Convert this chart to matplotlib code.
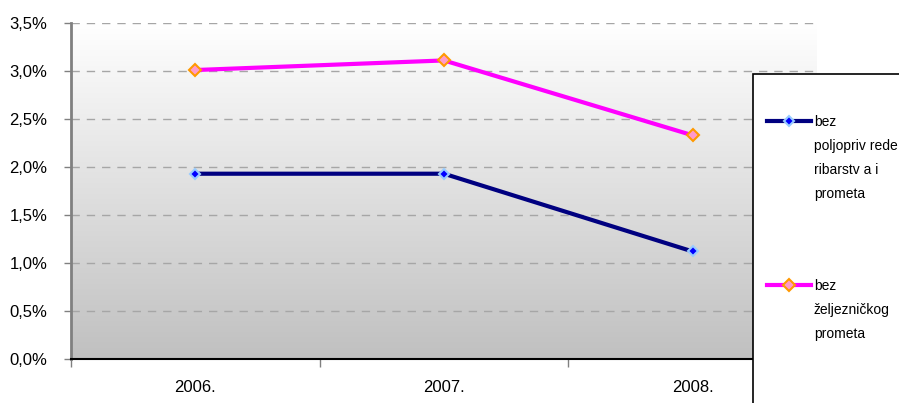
import matplotlib
matplotlib.use("Agg")
import matplotlib.pyplot as plt
import numpy as np
from matplotlib.patches import Rectangle
from matplotlib.lines import Line2D
from matplotlib.ticker import FuncFormatter, FixedLocator

categories = ["2006.", "2007.", "2008."]
series_a_name = "bez\npoljopriv rede\nribarstv a i\nprometa"
series_a = [1.93, 1.93, 1.12]
series_b_name = "bez\nželjezničkog\nprometa"
series_b = [3.01, 3.11, 2.33]
y_ticks = [0.0, 0.5, 1.0, 1.5, 2.0, 2.5, 3.0, 3.5]

W, H = 899, 403
fig = plt.figure(figsize=(W / 100, H / 100), dpi=100)
fig.patch.set_facecolor("white")
ax = fig.add_axes([71 / W, 1 - 359 / H, (817 - 71) / W, (359 - 23) / H])
ax.set_facecolor("none")

# gradient background
grad = np.linspace(0, 1, 256).reshape(-1, 1)
top = np.array([1.0, 1.0, 1.0])
bot = np.array([192, 192, 192]) / 255
img = top[None, None, :] * (1 - grad[:, :, None]) + bot[None, None, :] * grad[:, :, None]
ax.imshow(img, extent=[0, 1, 0, 1], transform=ax.transAxes, aspect="auto", zorder=0)

x = np.arange(len(categories))
ax.set_xlim(-0.5, len(categories) - 0.5)
ax.set_ylim(0, 3.5)

for yv in y_ticks[1:]:
    ax.axhline(yv, color="#a6a6a6", lw=1.0, ls=(0, (6, 5)), zorder=1)

ax.plot(x, series_a, color="#000080", lw=3, zorder=3)
ax.plot(x, series_a, ls="none", marker="D", ms=5.5, mfc="#0000ff", mec="#99ccff", mew=1.5, zorder=4)
ax.plot(x, series_b, color="#ff00ff", lw=3, zorder=3)
ax.plot(x, series_b, ls="none", marker="D", ms=6.5, mfc="#ff99cc", mec="#ff9900", mew=1.5, zorder=4)

ax.set_yticks(y_ticks)
ax.yaxis.set_major_formatter(FuncFormatter(lambda v, p: f"{v:.1f}%".replace(".", ",")))
ax.set_xticks(x)
ax.set_xticklabels(categories)
ax.xaxis.set_minor_locator(FixedLocator([-0.5, 0.5, 1.5, 2.5]))
ax.tick_params(axis="x", which="major", length=0, pad=15, labelsize=12)
ax.tick_params(axis="x", which="minor", length=6, color="#808080", width=1)
ax.tick_params(axis="y", which="major", length=5, color="#808080", width=1, pad=12, labelsize=12)

for s in ["top", "right"]:
    ax.spines[s].set_visible(False)
ax.spines["left"].set_color("#808080")
ax.spines["left"].set_linewidth(2)
ax.spines["bottom"].set_color("black")
ax.spines["bottom"].set_linewidth(1.5)
for lab in ax.get_xticklabels() + ax.get_yticklabels():
    lab.set_fontfamily(["Liberation Sans", "DejaVu Sans"])

# legend box (extends beyond figure edge)
lx0 = 753 / W
ly0 = 1 - 74 / H
fig.patches.append(Rectangle((lx0, -0.2), 1.2 - lx0, ly0 + 0.2, transform=fig.transFigure,
                             facecolor="white", edgecolor="black", lw=1.2, zorder=5))

def legend_entry(yp, color, mfc, mec, ms, label):
    yf = 1 - yp / H
    fig.add_artist(Line2D([767 / W, 811 / W], [yf, yf], transform=fig.transFigure,
                          color=color, lw=3, zorder=6))
    fig.add_artist(Line2D([789 / W], [yf], transform=fig.transFigure, ls="none",
                          marker="D", ms=ms, mfc=mfc, mec=mec, mew=1.5, zorder=7))
    fig.text(814 / W, yf + 6 / H, label, ha="left", va="top", fontsize=10, linespacing=1.9,
             family=["Liberation Sans Narrow", "Liberation Sans", "DejaVu Sans"], zorder=8)

legend_entry(121, "#000080", "#0000ff", "#99ccff", 5.5, series_a_name)
legend_entry(285, "#ff00ff", "#ff99cc", "#ff9900", 6.5, series_b_name)

fig.savefig("out.png", dpi=100)
